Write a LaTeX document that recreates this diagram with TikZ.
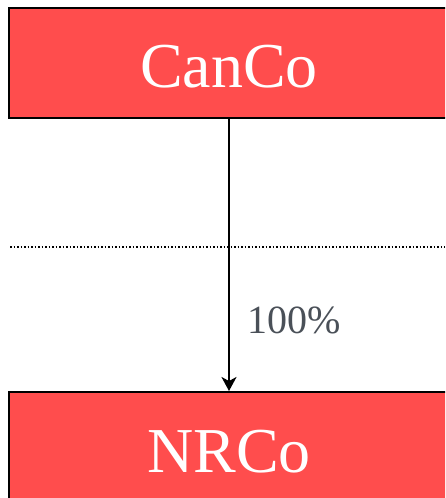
\documentclass[tikz,border=0pt]{standalone}
\usepackage{fontspec}
\setmainfont{Liberation Serif}
\usetikzlibrary{arrows.meta}
\definecolor{boxred}{HTML}{FF4D4D}
\definecolor{labelgray}{HTML}{4A5058}
\begin{document}
\begin{tikzpicture}[x=1pt,y=-1pt,
  entity/.style={draw=black,line width=1.5pt,fill=boxred,minimum width=442pt,minimum height=110pt,inner sep=0pt,anchor=north west},
  entitytext/.style={text=white,font=\fontsize{64}{64}\selectfont},
  conn/.style={draw=black,line width=2pt,-{Stealth[length=14pt,width=15pt,inset=4pt]}}]
\useasboundingbox (0,0) rectangle (445,498);
\clip (0,0) rectangle (445,498);
\node[entity] (canco) at (8,7) {};
\node[entity] (nrco) at (8,391) {};
\node[entitytext] (cancot) at (229,67) {CanCo};
\node[entitytext] (nrcot) at (229,452) {NRCo};
\coordinate (dl) at (10,247);
\coordinate (dr) at (445,247);
\draw[line width=1.5pt,dash pattern=on 1.5pt off 2pt] (dl) -- (dr);
\draw[conn] (canco.south -| cancot) -- (nrco.north -| cancot);
\node[text=labelgray,font=\fontsize{40}{40}\selectfont,anchor=west] (pct) at (244,320) {100\%};
\end{tikzpicture}
\end{document}
